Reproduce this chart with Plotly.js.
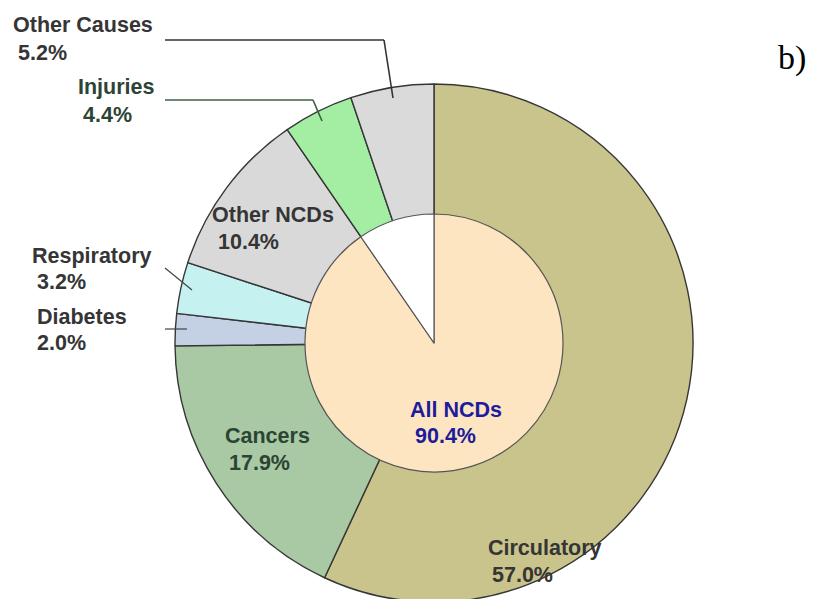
<!DOCTYPE html>
<html>
<head>
<meta charset="utf-8">
<script src="https://cdn.plot.ly/plotly-3.0.1.min.js"></script>
<style>
html,body{margin:0;padding:0;overflow:hidden;background:#fff;}
#chart{width:830px;height:602px;}
</style>
</head>
<body>
<div id="chart"></div>
<script>
// ---- data ----
var outerLabels = ["Circulatory", "Cancers", "Diabetes", "Respiratory", "Other NCDs", "Injuries", "Other Causes"];
var outerValues = [57.0, 17.9, 2.0, 3.2, 10.4, 4.4, 5.2];
var innerLabels = ["All NCDs", "Other"];
var innerValues = [90.4, 9.6];

// ---- styles ----
var outerColors = ["#c9c48b", "#a8c9a3", "#c4d0e3", "#c6f1f1", "#d9d9d9", "#a3eea3", "#dadada"];
var innerColors = ["#fee5c2", "#ffffff"];

var W = 830, H = 602;
var cx = 434, cy = 343, R = 259, r = 129;
function PX(x){ return x / W; }
function PY(y){ return (H - y) / H; }

var traces = [
  {
    type: "pie", labels: outerLabels, values: outerValues, sort: false,
    direction: "clockwise", rotation: 0, textinfo: "none", hoverinfo: "label+value",
    marker: {colors: outerColors, line: {color: "#363636", width: 1.4}},
    domain: {x: [PX(cx - R), PX(cx + R)], y: [PY(cy + R), PY(cy - R)]},
    showlegend: false
  },
  {
    type: "pie", labels: innerLabels, values: innerValues, sort: false,
    direction: "clockwise", rotation: 0, textinfo: "none", hoverinfo: "label+value",
    marker: {colors: innerColors, line: {color: "#555555", width: 1.2}},
    domain: {x: [PX(cx - r), PX(cx + r)], y: [PY(cy + r), PY(cy - r)]},
    showlegend: false
  }
];

function pctText(v){ return v.toFixed(1) + "%"; }

var FONT = "Liberation Sans, Arial, sans-serif";
function ann(text, x, y, color, size, family, bold){
  return {
    text: bold === false ? text : "<b>" + text + "</b>",
    x: PX(x), y: PY(y), xref: "paper", yref: "paper",
    xanchor: "left", yanchor: "middle", showarrow: false,
    font: {family: family || FONT, size: size || 21.5, color: color}
  };
}

var grey = "#353535", green = "#2c4434";
var annotations = [
  ann(outerLabels[6], 11, 25, grey), ann(pctText(outerValues[6]), 16, 53, grey),
  ann(outerLabels[5], 76, 87, green), ann(pctText(outerValues[5]), 81, 115, green),
  ann(outerLabels[4], 210, 215, grey), ann(pctText(outerValues[4]), 216, 242, grey),
  ann(outerLabels[3], 30, 256, grey), ann(pctText(outerValues[3]), 35, 282, grey),
  ann(outerLabels[2], 35, 317, grey), ann(pctText(outerValues[2]), 35, 343, grey),
  ann(outerLabels[1], 223, 436, green), ann(pctText(outerValues[1]), 227, 463, green),
  ann(outerLabels[0], 486, 548, grey), ann(pctText(outerValues[0]), 490, 575, grey),
  ann(innerLabels[0], 408, 410, "#1c1c9c"), ann(pctText(innerValues[0]), 413, 436, "#1c1c9c"),
  ann("b)", 776, 58, "#000000", 34, "Liberation Serif, Times New Roman, serif", false)
];

function seg(x0, y0, x1, y1, color, w){
  return {type: "line", xref: "paper", yref: "paper",
    x0: PX(x0), y0: PY(y0), x1: PX(x1), y1: PY(y1),
    line: {color: color, width: w || 1.5}};
}
var shapes = [
  seg(165, 40, 384, 40, "#333333", 1.6), seg(384, 40, 393, 98, "#333333", 1.6),
  seg(165, 100, 313, 100, "#6f8a74", 2), seg(313, 100, 322, 121, "#3f5a44", 1.6),
  seg(165, 268, 192, 290, "#444444", 1.2),
  seg(165, 329, 187, 329, "#444444", 1.2)
];

var layout = {
  width: W, height: H,
  margin: {l: 0, r: 0, t: 0, b: 0},
  paper_bgcolor: "#ffffff", plot_bgcolor: "#ffffff",
  showlegend: false,
  annotations: annotations,
  shapes: shapes
};

Plotly.newPlot("chart", traces, layout, {displayModeBar: false, staticPlot: true});
</script>
</body>
</html>
